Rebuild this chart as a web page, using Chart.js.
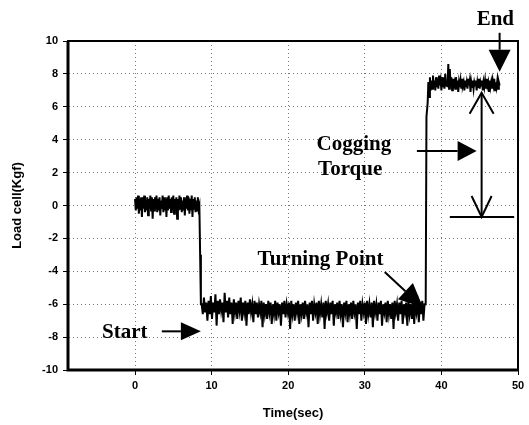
<!DOCTYPE html>
<html><head><meta charset="utf-8">
<script src="https://cdn.jsdelivr.net/npm/chart.js@4.4.0/dist/chart.umd.min.js"></script>
<style>html,body{margin:0;padding:0;background:#fff;}</style>
</head><body>
<canvas id="c" width="529" height="425" style="display:block;width:529px;height:425px"></canvas>
<script>
// ---- data ----
const xTickValues = [0, 10, 20, 30, 40, 50];
const yTickValues = [-10, -8, -6, -4, -2, 0, 2, 4, 6, 8, 10];

// rest segment: sampled every 0.1 s from t = 0
const restStart = 0.0, restStep = 0.1;
const restLoad = [
 0.4,-0.3,0.5,-0.2,0.6,-0.5,0.4,-0.3,0.5,-0.7,
 0.5,-0.2,0.6,-0.4,0.3,-0.3,0.5,-0.6,0.4,-0.2,
 0.6,-0.3,0.5,-0.8,0.4,-0.3,0.5,-0.2,0.6,-0.4,
 0.4,-0.3,0.5,-0.6,0.3,-0.2,0.6,-0.4,0.5,-0.3,
 0.4,-0.7,0.5,-0.3,0.6,-0.2,0.4,-0.4,0.5,-0.3,
 0.6,-0.5,0.4,-0.2,0.5,-0.8,0.4,-0.3,0.6,-0.2,
 0.5,-0.4,0.3,-0.3,0.5,-0.6,0.4,-0.2,0.6,-0.3,
 0.5,-0.5,0.4,-0.3,0.6,-0.7,0.4,-0.2,0.5,-0.4,
 0.3,-0.3,0.5,-0.2];

const fallTime = [8.4, 8.5, 8.6];
const fallLoad = [0.0, -3.0, -6.0];

// running segment: sampled every 0.15 s from t = 8.7
const runStart = 8.7, runStep = 0.15;
const runLoad = [
 -6.0,-6.6,-5.6,-6.5,-5.9,-7.0,-5.8,-6.6,-5.5,-6.9,
 -5.9,-6.5,-5.4,-7.3,-5.8,-6.6,-5.7,-6.4,-5.9,-7.1,
 -5.3,-6.5,-5.8,-6.8,-5.6,-6.6,-5.9,-7.2,-5.7,-6.5,
 -5.9,-6.9,-5.8,-6.4,-5.6,-7.0,-5.9,-6.5,-5.8,-7.3,
 -5.9,-6.6,-5.7,-6.5,-6.0,-7.1,-5.8,-6.6,-5.9,-6.8,
 -6.0,-6.5,-5.8,-7.4,-5.9,-6.6,-6.0,-6.9,-5.8,-6.5,
 -5.9,-7.2,-6.0,-6.6,-5.8,-7.0,-5.9,-6.5,-6.0,-7.3,
 -5.9,-6.6,-5.8,-6.8,-6.0,-6.5,-5.9,-7.5,-5.8,-6.6,
 -6.0,-7.0,-5.9,-6.5,-5.8,-7.2,-6.0,-6.6,-5.9,-6.9,
 -5.8,-6.5,-6.0,-7.4,-5.9,-6.6,-5.8,-7.0,-6.0,-6.5,
 -5.9,-7.2,-5.8,-6.6,-6.0,-6.8,-5.9,-7.5,-5.8,-6.5,
 -6.0,-7.0,-5.9,-6.6,-5.8,-7.3,-6.0,-6.5,-5.9,-6.9,
 -5.8,-6.6,-6.0,-7.4,-5.9,-6.5,-5.8,-7.1,-6.0,-6.6,
 -5.9,-6.9,-5.8,-6.5,-6.0,-7.5,-5.9,-6.6,-5.8,-7.0,
 -6.0,-6.5,-5.9,-7.2,-5.8,-6.6,-6.0,-6.8,-5.9,-7.4,
 -5.8,-6.5,-6.0,-7.0,-5.9,-6.6,-5.8,-7.3,-6.0,-6.5,
 -5.9,-7.1,-5.8,-6.6,-6.0,-6.9,-5.9,-7.5,-5.8,-6.5,
 -6.0,-7.0,-5.9,-6.6,-5.8,-7.2,-6.0,-6.5,-5.9,-7.3,
 -5.8,-6.6,-6.0,-6.9,-5.9,-7.2,-5.8,-6.5,-6.0,-7.1,
 -5.9,-6.6,-5.8,-7.0,-6.0];

const riseTime = [37.95, 38.05];
const riseLoad = [-6.0, 5.4];

// end segment: sampled every 0.1 s from t = 38.2
const endStart = 38.2, endStep = 0.1;
const endLoad = [
 6.2,7.5,6.6,7.8,7.0,7.6,7.1,7.9,7.2,7.6,
 7.0,7.8,7.2,7.7,7.1,7.9,7.3,7.6,7.0,7.8,
 7.2,7.7,7.1,8.0,7.3,7.6,7.2,8.6,7.1,8.3,
 7.2,7.8,7.0,7.7,7.3,7.5,7.1,7.8,7.2,7.6,
 6.9,7.5,7.2,7.6,7.1,7.7,7.3,7.5,7.0,7.6,
 7.2,7.5,7.1,7.7,7.3,7.6,6.9,7.5,7.2,7.6,
 7.1,7.5,7.3,7.6,7.0,7.5,7.2,7.7,7.1,7.5,
 7.3,7.6,7.0,7.5,7.2,7.6,7.1,7.7,7.3,7.5,
 6.9,7.6,7.2,7.5,7.1,7.6,7.3,7.7,7.0,7.5,
 7.2,7.6,7.1,7.5,7.3];

// ---- build points ----
const pts = [];
restLoad.forEach((v,i)=>pts.push({x: +(restStart+i*restStep).toFixed(3), y: v}));
fallTime.forEach((t,i)=>pts.push({x: t, y: fallLoad[i]}));
runLoad.forEach((v,i)=>pts.push({x: +(runStart+i*runStep).toFixed(3), y: v}));
riseTime.forEach((t,i)=>pts.push({x: t, y: riseLoad[i]}));
endLoad.forEach((v,i)=>pts.push({x: +(endStart+i*endStep).toFixed(3), y: v}));

// ---- annotation plugin ----
function filledArrow(ctx, x1, y1, x2, y2, len, half){
  const a = Math.atan2(y2-y1, x2-x1);
  const bx = x2 - len*Math.cos(a), by = y2 - len*Math.sin(a);
  ctx.beginPath(); ctx.moveTo(x1,y1); ctx.lineTo(bx,by); ctx.stroke();
  ctx.beginPath();
  ctx.moveTo(x2,y2);
  ctx.lineTo(bx + half*Math.sin(a), by - half*Math.cos(a));
  ctx.lineTo(bx - half*Math.sin(a), by + half*Math.cos(a));
  ctx.closePath(); ctx.fill();
}
function openHead(ctx, tx, ty, dir, len, half){
  ctx.beginPath();
  ctx.moveTo(tx-half, ty+dir*len); ctx.lineTo(tx, ty); ctx.lineTo(tx+half, ty+dir*len);
  ctx.stroke();
}
const annot = {
  id: 'annot',
  afterDraw(chart){
    const ctx = chart.ctx, X = v=>chart.scales.x.getPixelForValue(v), Y = v=>chart.scales.y.getPixelForValue(v);
    const a = chart.chartArea;
    ctx.save();
    // frame
    ctx.strokeStyle = '#000'; ctx.lineWidth = 2;
    ctx.strokeRect(a.left, a.top, a.right-a.left, a.bottom-a.top);
    ctx.beginPath(); ctx.lineWidth = 3;
    ctx.moveTo(a.left, a.top); ctx.lineTo(a.left, a.bottom); ctx.lineTo(a.right, a.bottom); ctx.stroke();
    ctx.fillStyle = '#000'; ctx.lineWidth = 2;
    ctx.font = 'bold 21px "Liberation Serif"';
    ctx.textBaseline = 'alphabetic'; ctx.textAlign = 'left';
    const txt = (s,x,y)=>{ ctx.fillText(s,x,y); };
    // Start
    txt('Start', X(-4.3), Y(-8.05));
    filledArrow(ctx, X(3.5), Y(-7.65), X(8.6), Y(-7.65), 20, 9);
    // Turning Point
    txt('Turning Point', X(16.0), Y(-3.62));
    filledArrow(ctx, X(32.6), Y(-4.04), X(37.6), Y(-6.2), 24, 11);
    // Cogging Torque
    txt('Cogging', X(23.7), Y(3.37));
    txt('Torque', X(23.9), Y(1.85));
    filledArrow(ctx, X(36.8), Y(3.31), X(44.6), Y(3.31), 19, 10);
    // double arrow
    const dx = X(45.25), top = Y(6.85), bot = Y(-0.7);
    ctx.beginPath(); ctx.moveTo(dx, top); ctx.lineTo(dx, bot); ctx.stroke();
    openHead(ctx, dx, top, 1, 21, 12);
    openHead(ctx, dx, bot, -1, 21, 10);
    ctx.beginPath(); ctx.moveTo(X(41.1), bot); ctx.lineTo(X(49.5), bot); ctx.stroke();
    // End
    txt('End', X(44.6), Y(10.97));
    filledArrow(ctx, X(47.6), Y(10.5), X(47.6), Y(8.13), 22, 11);
    ctx.restore();
  }
};

new Chart(document.getElementById('c'), {
  type: 'line',
  data: { datasets: [{ data: pts, borderColor: '#000', borderWidth: 2, pointRadius: 0, tension: 0, fill: false }] },
  options: {
    responsive: false, animation: false, parsing: true,
    layout: { padding: { top: 41, right: 11, left: 0, bottom: 0 } },
    plugins: { legend: { display: false }, tooltip: { enabled: false } },
    scales: {
      x: {
        type: 'linear', min: -8.75, max: 50,
        afterBuildTicks: s => { s.ticks = xTickValues.map(v=>({value:v})); },
        afterFit: s => { s.height = 55; },
        grid: { color: '#777', lineWidth: 1, tickLength: 5, tickColor: '#000', tickBorderDash: [8,0] },
        border: { display: true, color: '#000', width: 2, dash: [1,3] },
        ticks: { color: '#000', font: { family: '"Liberation Sans"', size: 11, weight: 'bold' }, padding: 4, maxRotation: 0 },
        title: { display: true, text: 'Time(sec)', color: '#000', font: { family: '"Liberation Sans"', size: 13, weight: 'bold' }, padding: { top: 12, bottom: 4 } }
      },
      y: {
        type: 'linear', min: -10, max: 10,
        afterBuildTicks: s => { s.ticks = yTickValues.map(v=>({value:v})); },
        afterFit: s => { s.width = 68; },
        grid: { color: '#777', lineWidth: 1, tickLength: 5, tickColor: '#000', tickBorderDash: [8,0] },
        border: { display: true, color: '#000', width: 2, dash: [1,3] },
        ticks: { color: '#000', font: { family: '"Liberation Sans"', size: 11, weight: 'bold' }, padding: 5 },
        title: { display: true, text: 'Load cell(Kgf)', color: '#000', font: { family: '"Liberation Sans"', size: 13, weight: 'bold' }, padding: { top: 10, bottom: 4 } }
      }
    }
  },
  plugins: [annot]
});
</script>
</body></html>
